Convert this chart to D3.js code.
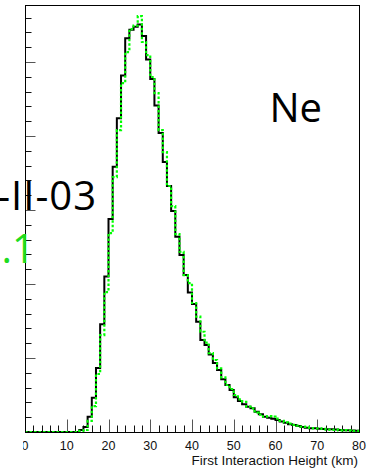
<!DOCTYPE html>
<html><head><meta charset="utf-8">
<script src="https://cdn.jsdelivr.net/npm/d3@7"></script>
<style>html,body{margin:0;padding:0;background:#fff;overflow:hidden}</style>
</head><body>
<svg id="c" width="368" height="472"></svg>
<script>
// First interaction height histogram, 1 km bins from 0 to 80 km
const binStartsKm = [0,1,2,3,4,5,6,7,8,9,10,11,12,13,14,15,16,17,18,19,20,21,22,23,24,25,26,27,28,29,30,31,32,33,34,35,36,37,38,39,40,41,42,43,44,45,46,47,48,49,50,51,52,53,54,55,56,57,58,59,60,61,62,63,64,65,66,67,68,69,70,71,72,73,74,75,76,77,78,79];
const qgsjetCounts = [0,0,0,0,0,0,0,0,0,0,0,0,0,27,68,207,463,865,1455,2101,2878,3585,4241,4818,5320,5436,5477,5507,5351,5034,4770,4412,4041,3649,3324,2986,2639,2392,2122,1885,1730,1490,1243,1176,1047,932,838,712,635,568,469,419,374,342,320,274,239,207,193,180,162,142,126,104,95,81,68,58,50,50,45,41,36,36,34,27,24,23,19,18];
const sibyllCounts = [0,0,0,0,0,0,0,0,0,0,0,0,0,14,27,149,351,784,1310,1891,2688,3445,4080,4715,5134,5444,5492,5620,5270,5093,4797,4580,4080,3783,3324,3053,2675,2436,2121,2013,1743,1558,1355,1209,1067,973,860,739,635,581,500,442,409,342,320,261,234,207,216,207,180,149,131,112,95,85,72,68,54,50,50,41,31,27,31,23,27,23,14,14];
const xTickValues = [0,10,20,30,40,50,60,70,80];
const xTickLabels = ["0","10","20","30","40","50","60","70","80"];
const xTitle = "First Interaction Height (km)";
const labelModelA = "-II-03";
const labelModelB = ".1";
const labelNucleus = "Ne";

const svg = d3.select("#c");
const pLeft = 25, pRight = 359, pTop = 5, pBottom = 432;
const x = d3.scaleLinear().domain([0, 80]).range([pLeft, pRight]);
const y = d3.scaleLinear().domain([0, 5770]).range([pBottom, pTop]);

svg.append("defs").append("clipPath").attr("id", "plot")
  .append("rect").attr("x", pLeft).attr("y", pTop).attr("width", pRight - pLeft).attr("height", pBottom - pTop);

// y ticks (no labels visible)
const yMinor = d3.range(0, 5770, 200);
svg.append("g").selectAll("line").data(yMinor).join("line")
  .attr("x1", pLeft).attr("x2", d => pLeft + (d % 1000 === 0 ? 10.5 : 6.5))
  .attr("y1", d => Math.round(y(d)) + 0.5).attr("y2", d => Math.round(y(d)) + 0.5)
  .attr("stroke", d => d % 1000 === 0 ? "#555" : "#111").attr("stroke-width", 1);

// x ticks
const xMinor = d3.range(0, 81, 2);
svg.append("g").selectAll("line").data(xMinor).join("line")
  .attr("x1", d => Math.round(x(d)) + 0.5).attr("x2", d => Math.round(x(d)) + 0.5)
  .attr("y1", pBottom).attr("y2", d => pBottom - (d % 10 === 0 ? 12.5 : 6.5))
  .attr("stroke", d => d % 10 === 0 ? "#555" : "#111").attr("stroke-width", 1);

// histograms
const pts = arr => binStartsKm.map((b, i) => [b, arr[i]]).concat([[80, arr[arr.length - 1]]]);
const line = d3.line().x(d => x(d[0])).y(d => y(d[1])).curve(d3.curveStepAfter);
const g = svg.append("g").attr("clip-path", "url(#plot)");
g.append("path").attr("d", line(pts(qgsjetCounts))).attr("fill", "none")
  .attr("stroke", "#000").attr("stroke-width", 2);
g.append("path").attr("d", line(pts(sibyllCounts))).attr("fill", "none")
  .attr("stroke", "#00ff00").attr("stroke-width", 2.2).attr("stroke-dasharray", "2.5,2");

// frame
svg.append("rect").attr("x", pLeft + 0.5).attr("y", pTop + 0.5)
  .attr("width", pRight - pLeft).attr("height", pBottom - pTop)
  .attr("fill", "none").attr("stroke", "#000").attr("stroke-width", 1);

// x tick labels
svg.append("g").selectAll("text").data(xTickValues).join("text")
  .attr("x", d => x(d)).attr("y", 450)
  .attr("text-anchor", "middle")
  .attr("font-family", "Liberation Sans, Arial, sans-serif").attr("font-size", 12.5)
  .attr("fill", "#111").text((d, i) => xTickLabels[i]);
svg.append("rect").attr("x", 0).attr("y", 437).attr("width", 23).attr("height", 16).attr("fill", "#fff");

svg.append("text").attr("x", 358).attr("y", 465).attr("text-anchor", "end")
  .attr("font-family", "Liberation Sans, Arial, sans-serif").attr("font-size", 13.5)
  .attr("fill", "#111").text(xTitle);

// annotations
const annFont = "Open Sans, Lato, sans-serif";
svg.append("text").attr("x", 97).attr("y", 210).attr("text-anchor", "end")
  .attr("font-family", annFont).attr("font-size", 40).attr("letter-spacing", 1).attr("fill", "#000").text(labelModelA);
svg.append("text").attr("x", 35).attr("y", 263).attr("text-anchor", "end")
  .attr("font-family", annFont).attr("font-size", 40).attr("fill", "#1fdc1f").text(labelModelB);
svg.append("text").attr("x", 322).attr("y", 122).attr("text-anchor", "end")
  .attr("font-family", annFont).attr("font-size", 40).attr("fill", "#000").text(labelNucleus);
</script>
</body></html>
